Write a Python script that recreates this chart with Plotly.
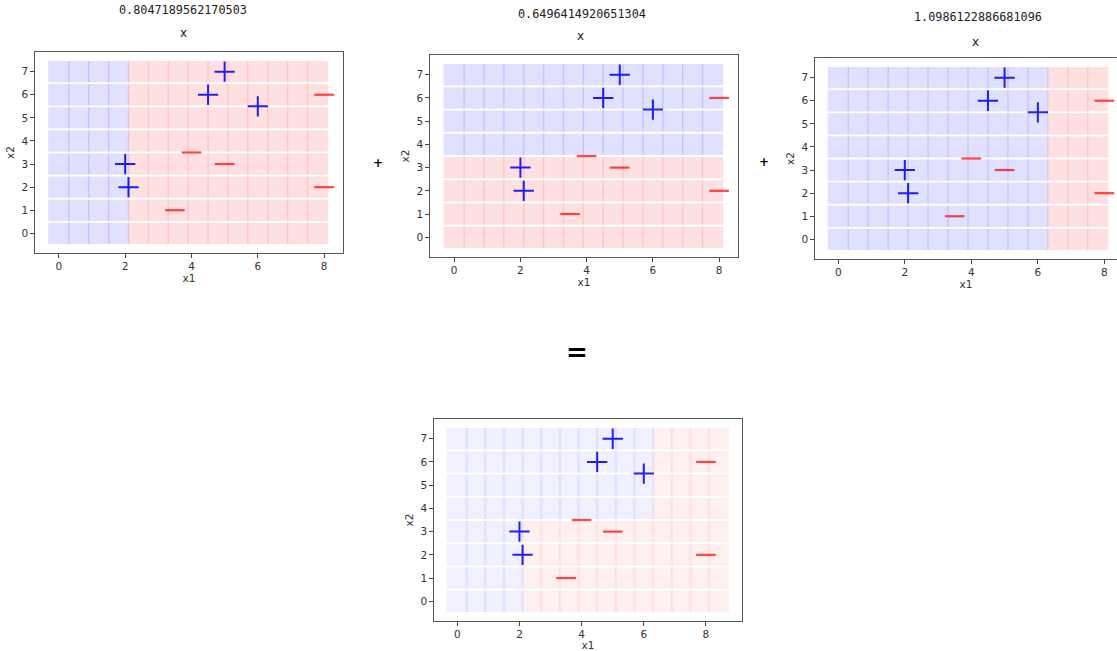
import plotly.graph_objects as go

# ---------------- data ----------------
pos_x1 = [2.0, 2.1, 4.5, 5.0, 6.0]
pos_x2 = [3.0, 2.0, 6.0, 7.0, 5.5]
neg_x1 = [3.5, 4.0, 5.0, 8.0, 8.0]
neg_x2 = [1.0, 3.5, 3.0, 6.0, 2.0]

alphas = [0.8047189562170503, 0.6496414920651304, 1.0986122886681096]
stump_feature = [0, 1, 0]          # 0 -> x1, 1 -> x2
stump_threshold = [2.05, 3.75, 6.25]
stump_below = [1, -1, 1]           # label given when value < threshold

grid_x1_stump = [0.0, 0.6, 1.2, 1.8, 2.4, 3.0, 3.6, 4.2, 4.8, 5.4, 6.0, 6.6, 7.2, 7.8]
grid_x1_final = grid_x1_stump + [8.4]
grid_x2 = [0, 1, 2, 3, 4, 5, 6, 7]

x_ticks = [0, 2, 4, 6, 8]
y_ticks = [0, 1, 2, 3, 4, 5, 6, 7]

W, H = 1117, 651


def stump_pred(k, a, b):
    v = a if stump_feature[k] == 0 else b
    return stump_below[k] if v < stump_threshold[k] else -stump_below[k]


def final_pred(a, b):
    s = sum(alphas[k] * stump_pred(k, a, b) for k in range(3))
    return 1 if s > 0 else -1


fig = go.Figure()

panels = [
    dict(grid=grid_x1_stump, pred=lambda a, b: stump_pred(0, a, b), op=0.12),
    dict(grid=grid_x1_stump, pred=lambda a, b: stump_pred(1, a, b), op=0.12),
    dict(grid=grid_x1_stump, pred=lambda a, b: stump_pred(2, a, b), op=0.12),
    dict(grid=grid_x1_final, pred=final_pred, op=0.06),
]

for i, p in enumerate(panels):
    suffix = "" if i == 0 else str(i + 1)
    bx, by, rx, ry = [], [], [], []
    for b in grid_x2:
        for a in p["grid"]:
            if p["pred"](a, b) > 0:
                bx.append(a); by.append(b)
            else:
                rx.append(a); ry.append(b)
    for xs, ys, col in [(bx, by, "blue"), (rx, ry, "red")]:
        fig.add_trace(go.Scatter(
            x=xs, y=ys, mode="markers", xaxis="x" + suffix, yaxis="y" + suffix,
            marker=dict(symbol="square", size=21.3, color=col, opacity=p["op"],
                        line=dict(width=0)),
            hoverinfo="skip", showlegend=False))
    fig.add_trace(go.Scatter(
        x=pos_x1, y=pos_x2, mode="markers", xaxis="x" + suffix, yaxis="y" + suffix,
        marker=dict(symbol="cross-thin", size=14.5,
                    line=dict(width=2, color="rgba(0,0,255,0.88)")),
        showlegend=False))
    fig.add_trace(go.Scatter(
        x=neg_x1, y=neg_x2, mode="markers", xaxis="x" + suffix, yaxis="y" + suffix,
        marker=dict(symbol="line-ew", size=14,
                    line=dict(width=2.2, color="rgba(255,0,0,0.72)")),
        showlegend=False))

# panel geometry in pixels: (left, right, top, bottom), x range
geom = [
    ((35, 343, 52, 253), [-0.72, 8.57], True),
    ((430, 738, 55, 257), [-0.73, 8.57], True),
    ((815, 1117, 58, 259), [-0.70, 8.38], False),
    ((434, 742, 419, 621), [-0.75, 9.16], True),
]

axis_font = dict(family="DejaVu Sans", size=10.5, color="#333")
for i, ((l, r, t, b), xr, mirror) in enumerate(geom):
    suffix = "" if i == 0 else str(i + 1)
    fig.layout["xaxis" + suffix] = dict(
        domain=[l / W, r / W], range=xr, anchor="y" + suffix,
        tickvals=x_ticks, ticks="outside", ticklen=3.5, tickcolor="#444",
        showline=True, linecolor="#555", linewidth=1.3, mirror=True,
        showgrid=False, zeroline=False, tickfont=axis_font,
        title=dict(text="x1", font=axis_font, standoff=2))
    fig.layout["yaxis" + suffix] = dict(
        domain=[1 - b / H, 1 - t / H], range=[-0.85, 7.85], anchor="x" + suffix,
        tickvals=y_ticks, ticks="outside", ticklen=3.5, tickcolor="#444",
        showline=True, linecolor="#555", linewidth=1.3, mirror=mirror,
        showgrid=False, zeroline=False, tickfont=axis_font,
        title=dict(text="x2", font=axis_font, standoff=4))

ann = []
mono = dict(family="DejaVu Sans Mono", size=11.8, color="#222")
sans = dict(family="DejaVu Sans", size=12, color="#222")
for txt, px, py, f in [
    ("%r" % alphas[0], 183, 10, mono), ("x", 183, 33, sans),
    ("%r" % alphas[1], 582, 14, mono), ("x", 580, 36, sans),
    ("%r" % alphas[2], 978, 17, mono), ("x", 975, 42, sans),
]:
    ann.append(dict(text=txt, x=px / W, y=1 - py / H, xref="paper", yref="paper",
                    showarrow=False, xanchor="center", yanchor="middle", font=f))
for px, py in [(378, 163), (764, 162)]:
    ann.append(dict(text="<b>+</b>", x=px / W, y=1 - py / H, xref="paper", yref="paper",
                    showarrow=False, xanchor="center", yanchor="middle",
                    font=dict(family="DejaVu Sans", size=12, color="#000")))
ann.append(dict(text="<b>=</b>", x=577 / W, y=1 - 352 / H, xref="paper", yref="paper",
                showarrow=False, xanchor="center", yanchor="middle",
                font=dict(family="DejaVu Sans", size=26, color="#000")))

fig.update_layout(width=W, height=H, margin=dict(l=0, r=0, t=0, b=0),
                  paper_bgcolor="white", plot_bgcolor="white", annotations=ann)

fig.write_html("out.html", config={"displayModeBar": False},
               post_script="document.body.style.margin='0';"
                           "document.body.style.overflow='hidden';")
